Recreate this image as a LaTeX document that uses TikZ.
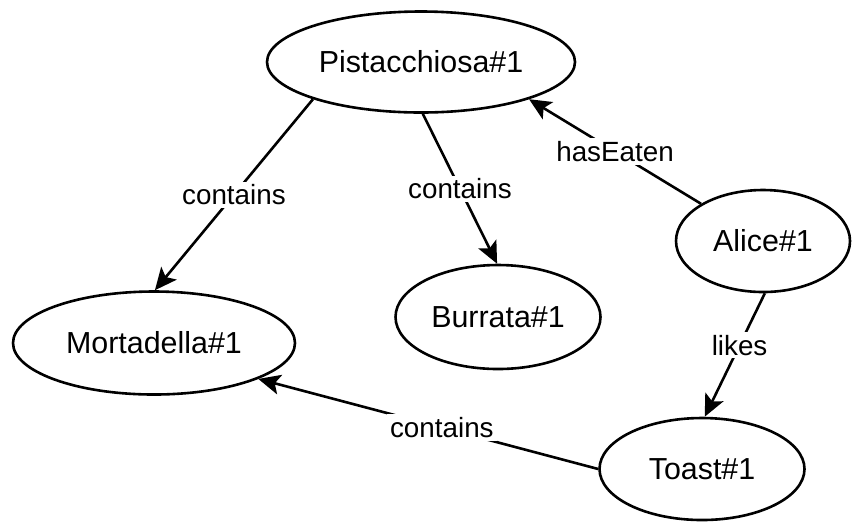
\documentclass[tikz,border=0pt]{standalone}
\usepackage{fontspec}
\setmainfont{Liberation Sans}
\usetikzlibrary{shapes.geometric, arrows.meta}

\begin{document}
\begin{tikzpicture}[
        x=0.5pt, y=-0.5pt,
        entity/.style={ellipse, draw=black, fill=white, line width=1.3pt, inner sep=0pt, font=\fontsize{15.2}{18}\selectfont},
        relation/.style={line width=1.3pt, -{Stealth[length=11pt, width=10pt, inset=2.5pt]}},
        rellabel/.style={fill=white, inner sep=1.5pt, font=\fontsize{13.9}{16}\selectfont}
    ]
    \useasboundingbox (0,0) rectangle (854,521);
    \node[entity, minimum width=154pt, minimum height=50.5pt] (pist) at (421,62) {Pistacchiosa\#1};
    \node[entity, minimum width=87pt, minimum height=51pt] (alice) at (763,241) {Alice\#1};
    \node[entity, minimum width=141pt, minimum height=51.5pt] (mort) at (154,343) {Mortadella\#1};
    \node[entity, minimum width=102.5pt, minimum height=52pt] (burr) at (498,317) {Burrata\#1};
    \node[entity, minimum width=102.5pt, minimum height=51pt] (toast) at (702,469) {Toast\#1};

    \draw[relation] (pist.199) -- node[rellabel] {contains} (mort.89);
    \draw[relation] (pist.-88) -- node[rellabel] {contains} (burr.91);
    \draw[relation] (alice.149) -- node[rellabel] {hasEaten} (pist.-19);
    \draw[relation] (alice.-88) -- node[rellabel, pos=0.42] {likes} (toast.87);
    \draw[relation] (toast.west) -- node[rellabel, pos=0.46] {contains} (mort.-19);
\end{tikzpicture}
\end{document}
